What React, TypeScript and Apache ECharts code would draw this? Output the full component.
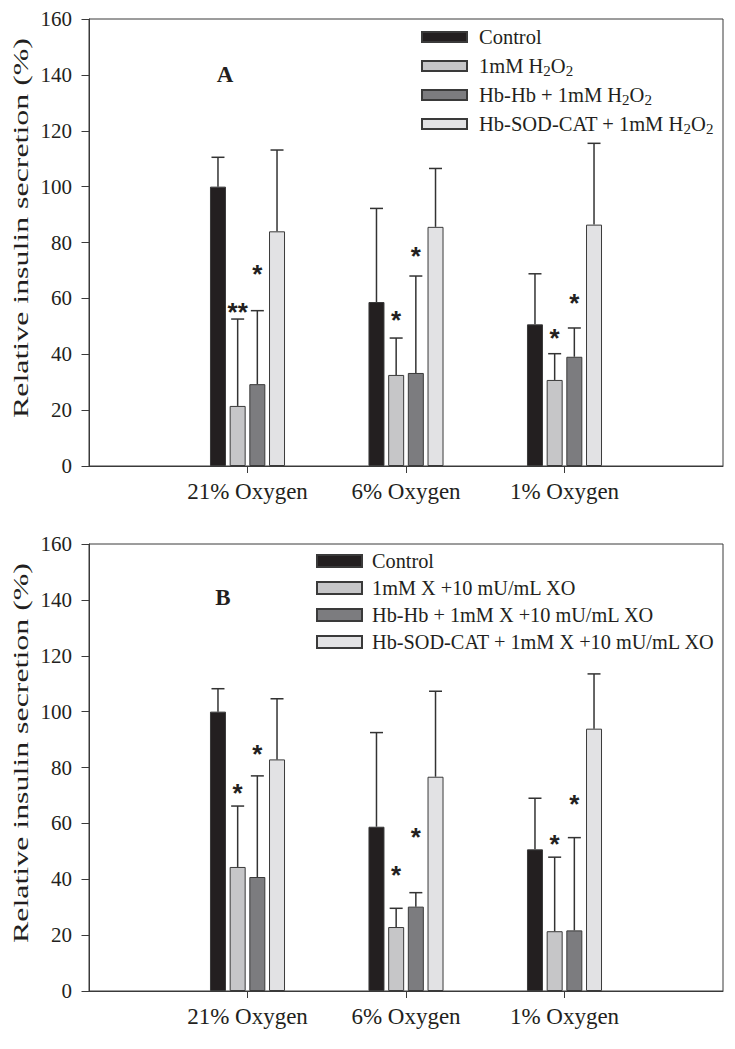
import React, { useEffect, useRef } from 'react';
import * as echarts from 'echarts';

// ---------- data ----------
const groups = ['21% Oxygen', '6% Oxygen', '1% Oxygen'];
const groupPos = [1, 2, 3];

const namesA = ['Control', '1mM H2O2', 'Hb-Hb + 1mM H2O2', 'Hb-SOD-CAT + 1mM H2O2'];
const namesB = ['Control', '1mM X +10 mU/mL XO', 'Hb-Hb + 1mM X +10 mU/mL XO', 'Hb-SOD-CAT + 1mM X +10 mU/mL XO'];

// Panel A means and SD (upper error)
const controlA = [100, 58.7, 50.7];
const h2o2A = [21.5, 32.6, 30.8];
const hbhbA = [29.3, 33.3, 39.1];
const sodcatA = [84, 85.6, 86.4];
const controlA_sd = [10.5, 33.5, 18.1];
const h2o2A_sd = [31.1, 13.2, 9.4];
const hbhbA_sd = [26.3, 34.7, 10.3];
const sodcatA_sd = [29.1, 20.9, 29.1];

// Panel B means and SD
const controlB = [100, 58.8, 50.7];
const xxoB = [44.4, 22.9, 21.4];
const hbhbB = [40.8, 30.2, 21.7];
const sodcatB = [82.9, 76.7, 93.9];
const controlB_sd = [8.2, 33.7, 18.3];
const xxoB_sd = [21.8, 6.7, 26.5];
const hbhbB_sd = [36.2, 5, 33.2];
const sodcatB_sd = [21.7, 30.6, 19.6];

// significance marks: [group index, series index, text, value height]
const starsA: [number, number, string, number][] = [
  [0, 1, '**', 57.4], [0, 2, '*', 70.8],
  [1, 1, '*', 54.4], [1, 2, '*', 77.3],
  [2, 1, '*', 47.8], [2, 2, '*', 60.6],
];
const starsB: [number, number, string, number][] = [
  [0, 1, '*', 73.1], [0, 2, '*', 87.1],
  [1, 1, '*', 43.7], [1, 2, '*', 57.3],
  [2, 1, '*', 54.7], [2, 2, '*', 69],
];

const yTicks = { min: 0, max: 160, interval: 20 };

// ---------- style ----------
const barColors = ['#231f20', '#c6c6c8', '#7c7c7f', '#e2e2e4'];
const INK = '#231f20';
const AXIS = '#3a3a3a';
const SERIF = 'Liberation Serif';
const BAR_W = 16;
const BAR_GAP = 0.23;
const PITCH = BAR_W * (1 + BAR_GAP);
const CAP = 6.5;
const STAR_DY = 6;

export default function App() {
  const ref = useRef<HTMLDivElement>(null);

  useEffect(() => {
    if (!ref.current) return;
    const chart = echarts.init(ref.current, null, { renderer: 'svg' });

    const panels = [
      { names: namesA, means: [controlA, h2o2A, hbhbA, sodcatA], sds: [controlA_sd, h2o2A_sd, hbhbA_sd, sodcatA_sd], stars: starsA },
      { names: namesB, means: [controlB, xxoB, hbhbB, sodcatB], sds: [controlB_sd, xxoB_sd, hbhbB_sd, sodcatB_sd], stars: starsB },
    ];

    const series: any[] = [];
    panels.forEach((p, pi) => {
      p.names.forEach((name, si) => {
        series.push({
          type: 'bar',
          name: pi === 0 ? name : name + (name === 'Control' ? ' ' : ''),
          xAxisIndex: pi,
          yAxisIndex: pi,
          barWidth: BAR_W,
          barGap: BAR_GAP * 100 + '%',
          data: groupPos.map((x, j) => [x, p.means[si][j]]),
          itemStyle: { color: barColors[si], borderColor: AXIS, borderWidth: 1 },
          z: 2,
        });
      });
      const errData: number[][] = [];
      p.names.forEach((_, si) => {
        groupPos.forEach((x, j) => errData.push([x, si, p.means[si][j], p.sds[si][j]]));
      });
      series.push({
        type: 'custom',
        xAxisIndex: pi,
        yAxisIndex: pi,
        z: 3,
        silent: true,
        encode: { x: 0, y: 2 },
        data: errData,
        renderItem: (params: any, api: any) => {
          const x = api.value(0), k = api.value(1), m = api.value(2), sd = api.value(3);
          const b = api.coord([x, m]);
          const t = api.coord([x, m + sd]);
          const cx = b[0] + (k - 1.5) * PITCH;
          const style = { stroke: '#333', lineWidth: 1.5 };
          return {
            type: 'group',
            children: [
              { type: 'line', shape: { x1: cx, y1: b[1], x2: cx, y2: t[1] }, style },
              { type: 'line', shape: { x1: cx - CAP, y1: t[1], x2: cx + CAP, y2: t[1] }, style },
            ],
          };
        },
      });
      series.push({
        type: 'custom',
        xAxisIndex: pi,
        yAxisIndex: pi,
        z: 4,
        silent: true,
        encode: { x: 0, y: 2 },
        data: p.stars.map((s) => [groupPos[s[0]], s[1], s[3]]),
        renderItem: (params: any, api: any) => {
          const x = api.value(0), k = api.value(1), y = api.value(2);
          const c = api.coord([x, y]);
          return {
            type: 'text',
            x: c[0] + (k - 1.5) * PITCH,
            y: c[1] + STAR_DY,
            style: {
              text: p.stars[params.dataIndex][2],
              font: 'bold 26px Liberation Sans',
              fill: INK,
              textAlign: 'center',
              textVerticalAlign: 'middle',
            },
          };
        },
      });
    });

    const tops = [19, 544];
    const grid = tops.map((top) => ({
      left: 89, top, width: 634, height: 447,
      show: true, borderColor: AXIS, borderWidth: 1, backgroundColor: 'transparent',
    }));

    const xAxis = [0, 1].map((gi) => ({
      type: 'value', gridIndex: gi, min: 0, max: 4,
      axisLine: { show: true, onZero: false, lineStyle: { color: AXIS, width: 1 } },
      axisTick: { show: true, customValues: groupPos, length: 7, lineStyle: { color: AXIS } },
      axisLabel: {
        customValues: groupPos,
        formatter: (v: number) => groups[Math.round(v) - 1] ?? '',
        fontSize: 23, fontFamily: SERIF, color: INK, margin: 14,
      },
      splitLine: { show: false },
    }));

    const yAxis = [0, 1].map((gi) => ({
      type: 'value', gridIndex: gi, min: yTicks.min, max: yTicks.max, interval: yTicks.interval,
      axisLine: { show: true, lineStyle: { color: AXIS, width: 1 } },
      axisTick: { show: true, length: 7.5, lineStyle: { color: AXIS } },
      axisLabel: { fontSize: 21, fontFamily: SERIF, color: INK, margin: 17 },
      splitLine: { show: false },
    }));

    const sub = (s: string) => s.replace(/H2O2/g, 'H{s|2}O{s|2}');
    const legendText = (fs: number) => ({
      fontSize: fs, fontFamily: SERIF, color: INK, lineHeight: 24,
      rich: { s: { fontSize: 15, fontFamily: SERIF, color: INK, lineHeight: 24, verticalAlign: 'bottom' } },
    });

    const legend = [
      {
        orient: 'vertical', left: 421, top: 25, padding: 0, itemWidth: 45, itemHeight: 10, itemGap: 5,
        icon: 'rect', data: namesA, formatter: sub,
        textStyle: { ...legendText(20.5), padding: [0, 0, 0, 7] },
        selectedMode: false,
      },
      {
        orient: 'vertical', left: 316, top: 549, padding: 0, itemWidth: 45, itemHeight: 12, itemGap: 3,
        icon: 'rect', data: namesB.map((n) => (n === 'Control' ? 'Control ' : n)),
        formatter: (n: string) => n.trim(),
        textStyle: { ...legendText(20.3), padding: [0, 0, 0, 5] },
        selectedMode: false,
      },
    ];

    const yTitle = (cy: number) => ({
      type: 'text', x: 21, y: cy, rotation: Math.PI / 2, scaleX: 1.45,
      style: {
        text: 'Relative insulin secretion (%)', font: '22px ' + SERIF, fill: INK,
        textAlign: 'center', textVerticalAlign: 'middle',
      },
    });

    chart.setOption({
      animation: false,
      backgroundColor: '#ffffff',
      grid, xAxis, yAxis, legend, series,
      graphic: [
        yTitle(228), yTitle(753),
        { type: 'text', x: 225, y: 74, style: { text: 'A', font: 'bold 23px ' + SERIF, fill: INK, textAlign: 'center', textVerticalAlign: 'middle' } },
        { type: 'text', x: 223, y: 597, style: { text: 'B', font: 'bold 23px ' + SERIF, fill: INK, textAlign: 'center', textVerticalAlign: 'middle' } },
      ],
    });

    return () => chart.dispose();
  }, []);

  return <div ref={ref} style={{ position: 'fixed', left: 0, top: 0, width: 735, height: 1049, background: '#fff' }} />;
}
